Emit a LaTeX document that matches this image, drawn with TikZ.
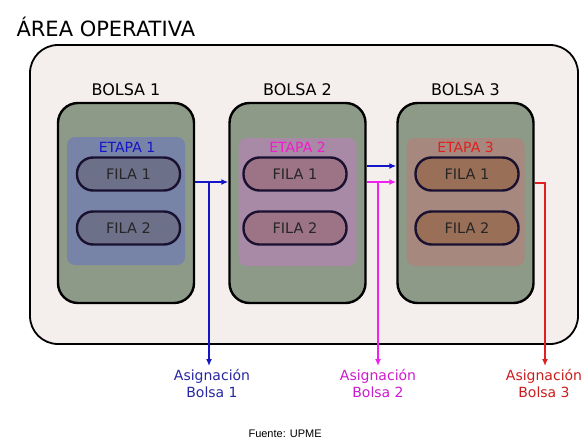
\documentclass[tikz,border=0pt]{standalone}
\usepackage{fontspec}
\setmainfont{DejaVu Sans}
\newfontfamily\fuentefont{Liberation Sans}
\usetikzlibrary{arrows.meta}
\definecolor{fondo}{HTML}{F4EEEC}
\definecolor{verde}{HTML}{8C9A87}
\definecolor{etapaA}{HTML}{7784A8}
\definecolor{etapaB}{HTML}{A88AA6}
\definecolor{etapaC}{HTML}{A6887E}
\definecolor{filaA}{HTML}{6D7089}
\definecolor{filaB}{HTML}{9C7486}
\definecolor{filaC}{HTML}{9A6F58}
\definecolor{borde}{HTML}{1A1030}
\definecolor{azul}{HTML}{1414C8}
\definecolor{rosa}{HTML}{F020F0}
\definecolor{rojo}{HTML}{E02020}
\begin{document}
\begin{tikzpicture}[x=1pt,y=-1pt,
    area/.style={draw,line width=1.8pt,rounded corners=28pt,fill=fondo,
      minimum width=548pt,minimum height=299pt,inner sep=0pt},
    bolsa/.style={draw,line width=2.4pt,rounded corners=20pt,fill=verde,
      minimum width=136pt,minimum height=200pt,inner sep=0pt},
    etapa/.style={rounded corners=8pt,minimum width=118pt,minimum height=128pt,inner sep=0pt},
    fila/.style={draw=borde,line width=2.4pt,rounded corners=16pt,text=black!85,
      minimum width=103pt,minimum height=33pt,inner sep=0pt,font=\fontsize{14.5}{16}\selectfont},
    titulo/.style={font=\fontsize{16}{18}\selectfont},
    etiq/.style={font=\fontsize{14}{16}\selectfont},
    flecha/.style={line width=2.4pt,-{Latex[length=7pt,width=6pt]}},
    asig/.style={align=center,anchor=north,font=\fontsize{14}{17}\selectfont}]
  \useasboundingbox (0,0) rectangle (585,441);
  \node[anchor=west,font=\fontsize{21}{24}\selectfont] (titulo) at (13,27) {ÁREA OPERATIVA};
  \node[area] (area) at (304,194.5) {};
  % bolsas
  \draw
    (126,203) node[bolsa] (b1){}
    (297.5,203) node[bolsa] (b2){}
    (465.5,203) node[bolsa] (b3){};
  \draw
    (126,90) node[titulo] (t1){BOLSA 1}
    (297.5,90) node[titulo] (t2){BOLSA 2}
    (465.5,90) node[titulo] (t3){BOLSA 3};
  % etapas
  \draw
    (126,201) node[etapa,fill=etapaA] (e1){}
    (297.5,202) node[etapa,fill=etapaB] (e2){}
    (465.5,202) node[etapa,fill=etapaC] (e3){};
  \draw
    (127,147) node[etiq,text=azul] (n1){ETAPA 1}
    (297.5,147) node[etiq,text=rosa!85!red] (n2){ETAPA 2}
    (465.5,147) node[etiq,text=rojo] (n3){ETAPA 3};
  % filas
  \draw
    (128.5,174) node[fila,fill=filaA] (f11){FILA 1}
    (128.5,228) node[fila,fill=filaA] (f12){FILA 2}
    (295,174) node[fila,fill=filaB] (f21){FILA 1}
    (295,228) node[fila,fill=filaB] (f22){FILA 2}
    (467,174) node[fila,fill=filaC] (f31){FILA 1}
    (467,228) node[fila,fill=filaC] (f32){FILA 2};
  % asignaciones
  \node[asig,text=azul!75!black!90] (a1) at (212,366) {Asignación\\Bolsa 1};
  \node[asig,text=rosa!85!black] (a2) at (378,366) {Asignación\\Bolsa 2};
  \node[asig,text=rojo!90!black] (a3) at (544,366) {Asignación\\Bolsa 3};
  \node[anchor=base west,font=\fuentefont\fontsize{11}{13}\selectfont] (fuente) at (245,437) {Fuente: UPME};
  \coordinate (j1) at (209,182);
  \coordinate (j2) at (378,182);
  \coordinate (j3) at (545,183);
  \coordinate (k2) at (378,166);
  \begin{scope}[flecha]
    \draw[azul] (b1.east |- j1) -- (b2.west |- j1);
    \draw[azul] (j1) -- (j1 |- a1.north);
    \draw[azul] (b2.east |- k2) -- (b3.west |- k2);
    \draw[rosa] (b2.east |- j2) -- (b3.west |- j2);
    \draw[rosa] (j2) -- (j2 |- a2.north);
    \draw[rojo] (b3.east |- j3) -- (j3) -- (j3 |- a3.north);
  \end{scope}
\end{tikzpicture}
\end{document}
